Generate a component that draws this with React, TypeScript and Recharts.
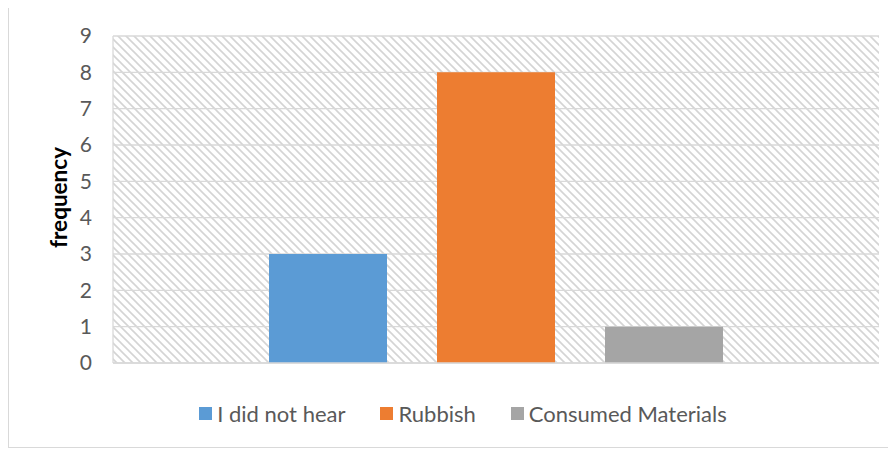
import React from 'react';
import { BarChart, Bar, XAxis, YAxis, CartesianGrid, Legend } from 'recharts';

const seriesNames = ['I did not hear', 'Rubbish', 'Consumed Materials'];
const seriesValues = [3, 8, 1];
const seriesColors = ['#5b9bd5', '#ed7d31', '#a5a5a5'];
const yTicks = [0, 1, 2, 3, 4, 5, 6, 7, 8, 9];
const yLabel = 'frequency';

const keys = ['s0', 's1', 's2'];
const data = [
  keys.reduce((row: any, k, i) => {
    row[k] = seriesValues[i];
    return row;
  }, { name: '' } as any),
];

const FONT = 'Lato, "Open Sans", sans-serif';
const TEXT = '#595959';
const GRID = '#d9d9d9';

const FreqLabel = (props: any) => {
  const vb = props.viewBox || {};
  const cx = 49;
  const cy = vb.y + vb.height / 2 - 2;
  return (
    <text
      x={cx}
      y={cy}
      transform={`rotate(-90, ${cx}, ${cy})`}
      textAnchor="middle"
      dominantBaseline="central"
      fontFamily={FONT}
      fontWeight={700}
      fontSize={22.5}
      fill="#000"
    >
      {yLabel}
    </text>
  );
};

const LegendContent = () => {
  return (
    <div style={{ display: 'flex', justifyContent: 'center', alignItems: 'center', height: 30, paddingLeft: 38, fontFamily: FONT, fontSize: 22, color: TEXT }}>
      {seriesNames.map((name, i) => (
        <div key={i} style={{ display: 'flex', alignItems: 'center', marginRight: i < seriesNames.length - 1 ? 35 : 0 }}>
          <span style={{ display: 'inline-block', width: 13, height: 13, background: seriesColors[i], marginRight: 5 }} />
          <span>{name}</span>
        </div>
      ))}
    </div>
  );
};

export default function App() {
  return (
    <div style={{ width: 888, height: 442, border: `1px solid ${GRID}`, marginTop: -2, boxSizing: 'border-box', background: '#fff' }}>
      <BarChart
        width={886}
        height={440}
        data={data}
        margin={{ top: 29, right: 16, left: 0, bottom: 52 }}
        barGap={50}
      >
        <defs>
          <pattern id="hatch" patternUnits="userSpaceOnUse" width="8" height="8">
            <rect width="8" height="8" fill="#fff" />
            <path d="M0,0 L8,8 M-2,6 L2,10 M6,-2 L10,2" stroke="#d4d4d4" strokeWidth={1.6} />
          </pattern>
        </defs>
        <CartesianGrid vertical={false} stroke={GRID} strokeWidth={1.3} fill="url(#hatch)" fillOpacity={1} />
        <XAxis dataKey="name" tick={false} tickLine={false} height={2} axisLine={{ stroke: GRID, strokeWidth: 1.3 }} />
        <YAxis
          domain={[0, 9]}
          ticks={yTicks}
          interval={0}
          width={104}
          tickLine={false}
          tickSize={0}
          tickMargin={21}
          axisLine={{ stroke: GRID, strokeWidth: 1.3 }}
          tick={{ fill: TEXT, fontSize: 21, fontFamily: FONT }}
          label={FreqLabel}
        />
        <YAxis
          yAxisId="r"
          orientation="right"
          domain={[0, 9]}
          width={0}
          tick={false}
          tickLine={false}
          axisLine={{ stroke: GRID, strokeWidth: 1.3 }}
        />
        <Legend verticalAlign="bottom" height={30} wrapperStyle={{ bottom: 19 }} content={LegendContent} />
        {keys.map((k, i) => (
          <Bar key={k} dataKey={k} name={seriesNames[i]} fill={seriesColors[i]} barSize={118} isAnimationActive={false} />
        ))}
      </BarChart>
    </div>
  );
}
